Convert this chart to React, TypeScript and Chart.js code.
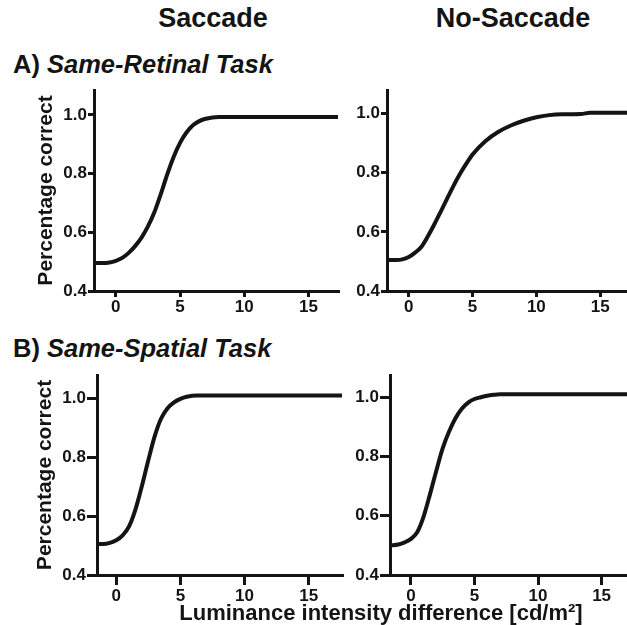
import React, { useEffect, useRef } from "react";
import { Chart, registerables } from "chart.js";

Chart.register(...registerables);

// Axis ticks
const xTickValues = [0, 5, 10, 15];
const yTickValues = [0.4, 0.6, 0.8, 1.0];

// A) Same-Retinal Task, Saccade
const xSacRet = [-1.7, -1, -0.5, 0, 0.5, 1, 1.5, 2, 2.5, 3, 3.5, 4, 4.5, 5, 5.5, 6, 6.5, 7, 8, 17.3];
const ySacRet = [0.495, 0.495, 0.497, 0.503, 0.513, 0.53, 0.553, 0.582, 0.62, 0.668, 0.73, 0.797, 0.857, 0.905, 0.94, 0.965, 0.979, 0.987, 0.993, 0.993];

// A) Same-Retinal Task, No-Saccade
const xNoRet = [-1.7, -1, -0.5, 0, 0.5, 1, 1.5, 2, 2.5, 3, 3.5, 4, 4.5, 5, 6, 7, 8, 9, 10, 11, 12, 13.5, 14.2, 17.1];
const yNoRet = [0.505, 0.505, 0.507, 0.515, 0.53, 0.55, 0.585, 0.625, 0.668, 0.712, 0.755, 0.795, 0.83, 0.862, 0.907, 0.938, 0.96, 0.976, 0.988, 0.995, 0.998, 0.999, 1.003, 1.003];

// B) Same-Spatial Task, Saccade
const xSacSpa = [-1.5, -1, -0.5, 0, 0.5, 1, 1.5, 2, 2.5, 3, 3.5, 4, 4.5, 5, 5.5, 6.3, 17.6];
const ySacSpa = [0.505, 0.505, 0.509, 0.518, 0.535, 0.565, 0.623, 0.703, 0.79, 0.872, 0.932, 0.967, 0.987, 0.999, 1.006, 1.01, 1.01];

// B) Same-Spatial Task, No-Saccade
const xNoSpa = [-1.65, -1, -0.5, 0, 0.5, 1, 1.5, 2, 2.5, 3, 3.5, 4, 4.5, 5, 5.5, 6, 6.5, 7, 17];
const yNoSpa = [0.5, 0.503, 0.51, 0.522, 0.545, 0.598, 0.673, 0.753, 0.828, 0.884, 0.929, 0.961, 0.982, 0.994, 1.0, 1.005, 1.008, 1.01, 1.01];

const FONT = "'Liberation Sans', Arial, Helvetica, sans-serif";
const INK = "#141414";

type PanelProps = {
  xs: number[];
  ys: number[];
  xMin: number;
  xMax: number;
  yMax: number;
  left: number;
  top: number;
  width: number;
  height: number;
  yW: number;
  xH: number;
  padTop: number;
  padRight: number;
  tickLen: number;
  xPad: number;
  yTitle: boolean;
  titlePad: number;
};

function Panel(p: PanelProps) {
  const ref = useRef<HTMLCanvasElement>(null);
  useEffect(() => {
    Chart.defaults.font.family = FONT;
    const chart = new Chart(ref.current as HTMLCanvasElement, {
      type: "line",
      data: {
        datasets: [
          {
            data: p.xs.map((x, i) => ({ x, y: p.ys[i] })),
            borderColor: INK,
            borderWidth: 4,
            pointRadius: 0,
            cubicInterpolationMode: "monotone",
            fill: false,
          },
        ],
      },
      options: {
        animation: false,
        responsive: false,
        maintainAspectRatio: false,
        layout: { padding: { top: p.padTop, right: p.padRight, left: 0, bottom: 0 } },
        plugins: { legend: { display: false }, tooltip: { enabled: false } },
        scales: {
          x: {
            type: "linear",
            min: p.xMin,
            max: p.xMax,
            afterBuildTicks: (s: any) => {
              s.ticks = xTickValues.map((v) => ({ value: v }));
            },
            afterFit: (s: any) => {
              s.height = p.xH;
            },
            grid: { drawOnChartArea: false, drawTicks: true, tickLength: p.tickLen, lineWidth: 3, color: INK },
            border: { display: true, width: 3, color: INK },
            ticks: {
              color: INK,
              padding: p.xPad,
              maxRotation: 0,
              font: { size: 17, weight: "bold", family: FONT },
              callback: (v: any) => String(v),
            },
          },
          y: {
            type: "linear",
            min: 0.4,
            max: p.yMax,
            afterBuildTicks: (s: any) => {
              s.ticks = yTickValues.map((v) => ({ value: v }));
            },
            afterFit: (s: any) => {
              s.width = p.yW;
            },
            grid: { drawOnChartArea: false, drawTicks: true, tickLength: p.tickLen, lineWidth: 3, color: INK },
            border: { display: true, width: 3, color: INK },
            ticks: {
              color: INK,
              padding: 1,
              font: { size: 17, weight: "bold", family: FONT },
              callback: (v: any) => Number(v).toFixed(1),
            },
            title: {
              display: p.yTitle,
              text: "Percentage correct",
              color: INK,
              font: { size: 21, weight: "bold", family: FONT },
              padding: { top: p.titlePad, bottom: 0 },
            },
          },
        },
      } as any,
    });
    return () => chart.destroy();
  }, []);
  return (
    <canvas
      ref={ref}
      width={p.width}
      height={p.height}
      style={{ position: "absolute", left: p.left, top: p.top, width: p.width, height: p.height }}
    />
  );
}

const textBase: React.CSSProperties = {
  position: "absolute",
  fontFamily: FONT,
  fontWeight: "bold",
  color: INK,
  whiteSpace: "nowrap",
};

export default function App() {
  return (
    <div
      style={{
        position: "absolute",
        left: 0,
        top: 0,
        width: 627,
        height: 625,
        overflow: "hidden",
        background: "#ffffff",
      }}
    >
      <div style={{ ...textBase, left: 113, top: 5, width: 200, textAlign: "center", fontSize: 27, lineHeight: "27px" }}>
        Saccade
      </div>
      <div style={{ ...textBase, left: 413, top: 5, width: 200, textAlign: "center", fontSize: 27, lineHeight: "27px" }}>
        No-Saccade
      </div>
      <div style={{ ...textBase, left: 13, top: 52, fontSize: 25.5, lineHeight: "25px" }}>
        A) <span style={{ fontStyle: "italic" }}>Same-Retinal Task</span>
      </div>
      <div style={{ ...textBase, left: 13, top: 336, fontSize: 25.5, lineHeight: "25px" }}>
        B) <span style={{ fontStyle: "italic" }}>Same-Spatial Task</span>
      </div>

      <Panel xs={xSacRet} ys={ySacRet} xMin={-1.7} xMax={17.3} yMax={1.085}
        left={0} top={78} width={345} height={243} yW={94} xH={30}
        padTop={12} padRight={7} tickLen={6} xPad={0} yTitle={true} titlePad={34} />
      <Panel xs={xNoRet} ys={yNoRet} xMin={-1.7} xMax={17.1} yMax={1.08}
        left={327} top={78} width={303} height={243} yW={60} xH={30}
        padTop={12} padRight={3} tickLen={6} xPad={0} yTitle={false} titlePad={0} />
      <Panel xs={xSacSpa} ys={ySacSpa} xMin={-1.5} xMax={17.6} yMax={1.08}
        left={0} top={363} width={349} height={247} yW={97} xH={35}
        padTop={12} padRight={7} tickLen={10} xPad={1} yTitle={true} titlePad={33} />
      <Panel xs={xNoSpa} ys={yNoSpa} xMin={-1.65} xMax={17.0} yMax={1.075}
        left={330} top={363} width={300} height={247} yW={60} xH={35}
        padTop={12} padRight={3} tickLen={10} xPad={1} yTitle={false} titlePad={0} />

      <div style={{ ...textBase, left: 131, top: 602, width: 500, textAlign: "center", fontSize: 22, lineHeight: "22px" }}>
        Luminance intensity difference [cd/m²]
      </div>
    </div>
  );
}
